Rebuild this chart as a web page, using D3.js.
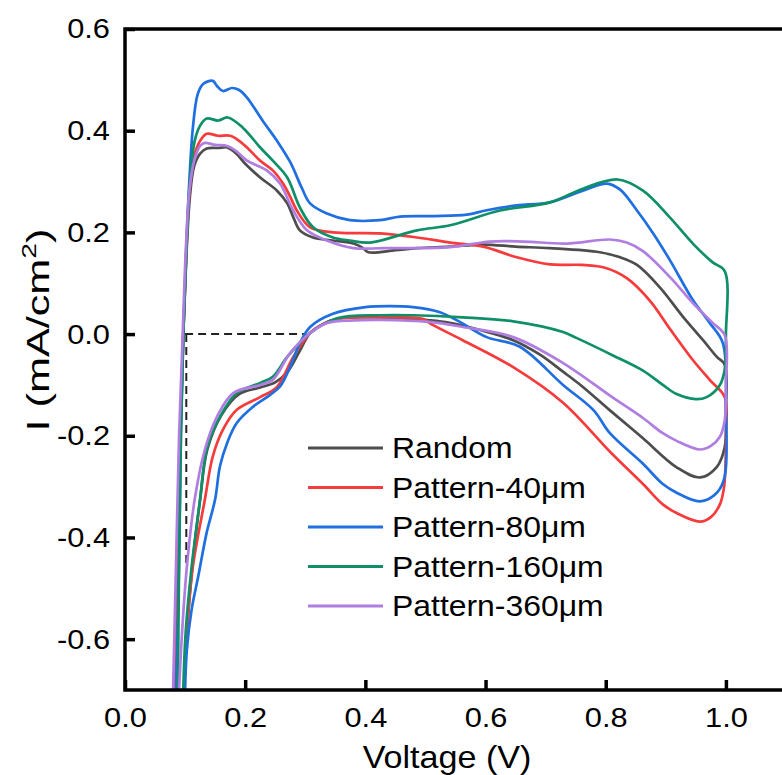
<!DOCTYPE html>
<html>
<head>
<meta charset="utf-8">
<script src="https://cdn.jsdelivr.net/npm/d3@7"></script>
<style>
  body { margin: 0; background: #fff; }
  text { font-family: "Liberation Sans", Arial, sans-serif; fill: #000; }
</style>
</head>
<body>
<div id="container"></div>
<script>
/* ---------------- DATA ---------------- */
const seriesNames = ["Random", "Pattern-40\u03bcm", "Pattern-80\u03bcm", "Pattern-160\u03bcm", "Pattern-360\u03bcm"];
const seriesColors = ["#4d4d4d", "#f53b3b", "#1f6fe0", "#0f8f68", "#b07ee0"];

// each loop: forward scan (upper branch) then reverse scan (lower branch), [V, I]
const randomCurve = [
  [0.083,-0.70],[0.088,-0.45],[0.092,-0.2],[0.097,0.0],[0.102,0.15],[0.108,0.27],[0.115,0.33],[0.125,0.355],
  [0.136,0.365],[0.155,0.366],[0.17,0.367],[0.185,0.355],[0.2,0.335],[0.225,0.308],[0.253,0.282],[0.27,0.257],
  [0.28,0.23],[0.291,0.204],[0.313,0.19],[0.346,0.184],[0.38,0.178],[0.395,0.17],[0.405,0.161],[0.45,0.165],
  [0.486,0.169],[0.54,0.172],[0.596,0.176],[0.65,0.172],[0.707,0.169],[0.79,0.161],[0.824,0.151],[0.852,0.136],
  [0.89,0.092],[0.928,0.035],[0.962,-0.012],[0.985,-0.045],[0.998,-0.06],
  [1.0,-0.15],[0.998,-0.222],[0.985,-0.261],[0.957,-0.282],[0.918,-0.262],[0.862,-0.205],[0.807,-0.15],
  [0.76,-0.102],[0.729,-0.074],[0.69,-0.04],[0.646,-0.012],[0.591,0.008],[0.54,0.022],[0.507,0.027],[0.46,0.031],
  [0.424,0.033],[0.38,0.033],[0.353,0.03],[0.33,0.02],[0.308,0.002],[0.29,-0.035],[0.27,-0.075],[0.25,-0.095],
  [0.225,-0.105],[0.19,-0.118],[0.16,-0.16],[0.137,-0.227],[0.125,-0.325],[0.112,-0.457],[0.103,-0.586],[0.098,-0.70]
];
const pattern40Curve = [
  [0.083,-0.70],[0.088,-0.45],[0.092,-0.2],[0.097,0.0],[0.102,0.16],[0.108,0.29],[0.115,0.35],[0.125,0.38],
  [0.136,0.394],[0.155,0.39],[0.175,0.39],[0.19,0.38],[0.203,0.367],[0.225,0.341],[0.246,0.322],[0.263,0.296],
  [0.275,0.27],[0.286,0.243],[0.308,0.21],[0.346,0.2],[0.424,0.198],[0.486,0.19],[0.541,0.18],[0.596,0.172],
  [0.652,0.151],[0.707,0.137],[0.76,0.136],[0.8,0.13],[0.835,0.11],[0.874,0.065],[0.907,0.01],[0.945,-0.051],
  [0.973,-0.09],[0.998,-0.124],
  [1.0,-0.2],[0.997,-0.3],[0.99,-0.335],[0.975,-0.36],[0.957,-0.369],[0.918,-0.352],[0.895,-0.335],
  [0.862,-0.295],[0.81,-0.235],[0.729,-0.135],[0.646,-0.065],[0.562,-0.012],[0.512,0.018],[0.495,0.03],
  [0.46,0.033],[0.424,0.033],[0.38,0.033],[0.353,0.03],[0.33,0.02],[0.308,0.002],[0.28,-0.045],[0.253,-0.104],
  [0.225,-0.124],[0.186,-0.149],[0.163,-0.188],[0.146,-0.241],[0.133,-0.325],[0.113,-0.457],[0.103,-0.586],[0.098,-0.70]
];
const pattern80Curve = [
  [0.085,-0.70],[0.09,-0.45],[0.093,-0.2],[0.097,0.0],[0.102,0.17],[0.107,0.3],[0.113,0.406],[0.121,0.472],
  [0.13,0.492],[0.146,0.498],[0.153,0.488],[0.163,0.478],[0.178,0.484],[0.19,0.48],[0.203,0.465],[0.23,0.418],
  [0.253,0.38],[0.275,0.338],[0.294,0.288],[0.308,0.257],[0.336,0.237],[0.374,0.224],[0.424,0.224],[0.458,0.231],
  [0.515,0.232],[0.569,0.235],[0.6,0.243],[0.652,0.253],[0.707,0.259],[0.762,0.282],[0.802,0.296],[0.824,0.284],
  [0.852,0.243],[0.879,0.198],[0.907,0.145],[0.945,0.067],[0.973,0.022],[0.995,-0.018],
  [1.0,-0.15],[0.998,-0.28],[0.985,-0.312],[0.957,-0.329],[0.918,-0.312],[0.895,-0.295],[0.862,-0.255],
  [0.807,-0.195],[0.78,-0.15],[0.729,-0.1],[0.657,-0.025],[0.602,-0.006],[0.557,0.024],[0.524,0.043],[0.479,0.053],
  [0.441,0.055],[0.4,0.053],[0.346,0.04],[0.308,0.014],[0.291,-0.018],[0.275,-0.064],[0.258,-0.103],[0.241,-0.12],
  [0.213,-0.143],[0.186,-0.175],[0.17,-0.214],[0.158,-0.26],[0.15,-0.325],[0.136,-0.39],[0.122,-0.476],
  [0.111,-0.541],[0.103,-0.62],[0.1,-0.70]
];
const pattern160Curve = [
  [0.088,-0.70],[0.09,-0.45],[0.093,-0.2],[0.097,0.0],[0.102,0.16],[0.108,0.3],[0.116,0.38],[0.125,0.41],
  [0.136,0.424],[0.155,0.42],[0.171,0.426],[0.196,0.406],[0.225,0.367],[0.246,0.341],[0.27,0.308],[0.291,0.249],
  [0.313,0.21],[0.346,0.19],[0.374,0.184],[0.408,0.18],[0.486,0.204],[0.541,0.214],[0.624,0.243],[0.707,0.259],
  [0.762,0.286],[0.82,0.304],[0.862,0.282],[0.907,0.229],[0.945,0.178],[0.978,0.141],[0.998,0.124],
  [1.0,0.0],[0.998,-0.07],[0.99,-0.1],[0.968,-0.124],[0.95,-0.128],[0.918,-0.118],[0.895,-0.1],[0.862,-0.072],
  [0.812,-0.042],[0.752,-0.008],[0.729,0.004],[0.646,0.025],[0.562,0.033],[0.479,0.037],[0.424,0.037],
  [0.353,0.031],[0.308,0.002],[0.27,-0.045],[0.246,-0.084],[0.225,-0.096],[0.186,-0.116],[0.158,-0.163],
  [0.136,-0.227],[0.125,-0.325],[0.111,-0.457],[0.101,-0.586],[0.097,-0.70]
];
const pattern360Curve = [
  [0.08,-0.70],[0.085,-0.45],[0.09,-0.2],[0.096,0.0],[0.101,0.16],[0.107,0.28],[0.115,0.34],[0.125,0.37],
  [0.133,0.376],[0.15,0.372],[0.17,0.37],[0.185,0.36],[0.203,0.341],[0.236,0.322],[0.258,0.296],[0.28,0.243],
  [0.303,0.204],[0.336,0.184],[0.38,0.169],[0.43,0.169],[0.541,0.171],[0.607,0.182],[0.663,0.182],[0.735,0.178],
  [0.807,0.186],[0.835,0.18],[0.862,0.163],[0.907,0.112],[0.945,0.061],[0.978,0.022],[0.998,-0.002],
  [1.0,-0.1],[0.998,-0.17],[0.99,-0.202],[0.975,-0.22],[0.957,-0.227],[0.918,-0.21],[0.895,-0.195],[0.862,-0.165],
  [0.812,-0.125],[0.729,-0.057],[0.646,-0.006],[0.562,0.014],[0.507,0.024],[0.424,0.028],[0.38,0.027],
  [0.337,0.022],[0.308,0.002],[0.275,-0.037],[0.246,-0.09],[0.225,-0.1],[0.18,-0.116],[0.153,-0.163],
  [0.133,-0.227],[0.116,-0.325],[0.103,-0.457],[0.095,-0.586],[0.09,-0.70]
];
const curves = [randomCurve, pattern40Curve, pattern80Curve, pattern160Curve, pattern360Curve];

// dashed guide: onset point
const guideH = [[0.1, 0], [0.3, 0]];
const guideV = [[0.102, 0], [0.102, -0.45]];

const xTicks = [0, 0.2, 0.4, 0.6, 0.8, 1.0];
const yTicks = [-0.6, -0.4, -0.2, 0, 0.2, 0.4, 0.6];

/* ---------------- SETUP ---------------- */
const W = 782, H = 775;
const pLeft = 125, pTop = 29, pBottom = 690, pRight = 786;
const STRETCH = 1.1;

const svg = d3.select("#container").append("svg")
  .attr("width", W)
  .attr("height", H);

const x = d3.scaleLinear().domain([0, 1.1]).range([pLeft, pRight]);
const y = d3.scaleLinear().domain([-0.7, 0.6]).range([pBottom, pTop]);

svg.append("clipPath").attr("id", "plot")
  .append("rect")
  .attr("x", pLeft).attr("y", pTop)
  .attr("width", pRight - pLeft).attr("height", pBottom - pTop);

const fmt = d => d3.format(".1f")(d).replace("\u2212", "-");

/* ---------------- CURVES ---------------- */
const line = d3.line()
  .x(d => x(d[0]))
  .y(d => y(d[1]))
  .curve(d3.curveCatmullRom.alpha(0.5));

const straight = d3.line().x(d => x(d[0])).y(d => y(d[1]));

const plot = svg.append("g").attr("clip-path", "url(#plot)");

[guideH, guideV].forEach(g => {
  plot.append("path")
    .attr("d", straight(g))
    .attr("fill", "none").attr("stroke", "#222").attr("stroke-width", 2)
    .attr("stroke-dasharray", "8,5");
});

curves.forEach((c, i) => {
  plot.append("path")
    .attr("d", line(c))
    .attr("fill", "none")
    .attr("stroke", seriesColors[i])
    .attr("stroke-width", 2.7)
    .attr("stroke-linejoin", "round");
});

/* ---------------- AXES ---------------- */
const xAxis = svg.append("g")
  .attr("transform", `translate(0,${pBottom})`)
  .call(d3.axisBottom(x).tickValues(xTicks).tickFormat(fmt)
    .tickSizeInner(-10).tickSizeOuter(0).tickPadding(17));

const yAxis = svg.append("g")
  .attr("transform", `translate(${pLeft},0)`)
  .call(d3.axisLeft(y).tickValues(yTicks).tickFormat(fmt)
    .tickSizeInner(-10).tickSizeOuter(0).tickPadding(15));

[xAxis, yAxis].forEach(a => {
  a.select(".domain").remove();
  a.selectAll(".tick line").attr("stroke", "#000").attr("stroke-width", 3.5);
  a.selectAll(".tick text")
    .attr("font-size", 28)
    .attr("font-family", "Liberation Sans, Arial, sans-serif")
    .attr("fill", "#000");
});

svg.append("rect")
  .attr("x", pLeft).attr("y", pTop)
  .attr("width", pRight - pLeft).attr("height", pBottom - pTop)
  .attr("fill", "none").attr("stroke", "#000").attr("stroke-width", 3.5);

svg.append("text")
  .attr("transform", `translate(447,768) scale(${STRETCH},1)`)
  .attr("text-anchor", "middle")
  .attr("font-size", 31)
  .text("Voltage (V)");

const yTitle = svg.append("text")
  .attr("transform", `translate(49,330) rotate(-90) scale(1.35,1)`)
  .attr("text-anchor", "middle")
  .attr("font-size", 32);
yTitle.append("tspan").text("I (mA/cm");
yTitle.append("tspan").attr("dy", -13).attr("font-size", 21).text("2");
yTitle.append("tspan").attr("dy", 13).text(")");

/* ---------------- LEGEND ---------------- */
const legend = svg.append("g");
seriesNames.forEach((name, i) => {
  const ly = 448 + i * 39.5;
  legend.append("line")
    .attr("x1", 308).attr("x2", 383)
    .attr("y1", ly).attr("y2", ly)
    .attr("stroke", seriesColors[i]).attr("stroke-width", 3);
  legend.append("text")
    .attr("x", 392).attr("y", ly)
    .attr("dy", "0.36em")
    .attr("font-size", 29)
    .text(name);
});

/* stretch text horizontally like the source figure */
svg.selectAll("g text").each(function () {
  const len = this.getComputedTextLength();
  d3.select(this).attr("textLength", len * STRETCH).attr("lengthAdjust", "spacingAndGlyphs");
});
</script>
</body>
</html>
